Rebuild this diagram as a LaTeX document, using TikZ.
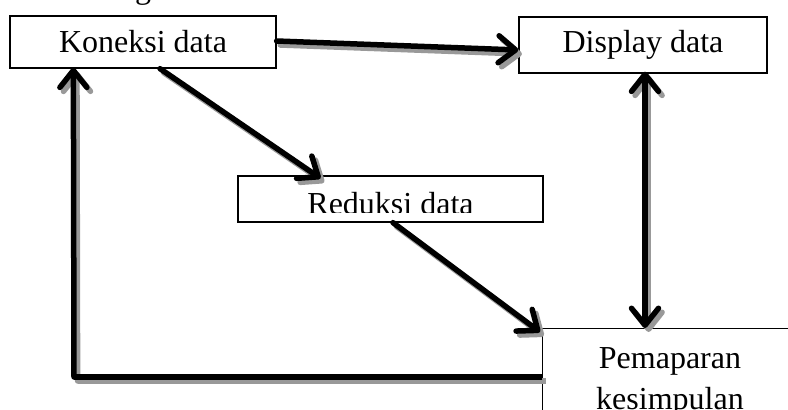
\documentclass[tikz,border=0pt]{standalone}
\usepackage{fontspec}
\setmainfont{Liberation Serif}
\usetikzlibrary{arrows.meta}
\tikzset{
  box/.style={draw=black, line width=1.3pt, fill=white, inner sep=0pt, font=\fontsize{32}{41}\selectfont},
  tipb/.tip={Straight Barb[length=17pt,width=27pt,line cap=round,line join=round]},
  conn/.style={line width=5.5pt, line cap=round, line join=round, -tipb},
  dconn/.style={conn, tipb-tipb},
  plain/.style={line width=5.5pt, line cap=butt, line join=miter},
  shade/.style={draw=black!40, transform canvas={shift={(1.8pt,-2pt)}}},
  lbl/.style={font=\fontsize{32}{41}\selectfont, inner sep=0pt}
}
\begin{document}
\begin{tikzpicture}[x=1pt,y=-1pt]
\useasboundingbox (0,0) rectangle (788,410);
\clip (0,0) rectangle (788,410);
\fill[white] (0,0) rectangle (788,410);
% clipped fragment at the top
\node[lbl, anchor=base] (frag) at (143,-2) {g};
% boxes
\node[box, minimum width=266pt, minimum height=52pt] (kon) at (143,42) {Koneksi data};
\node[box, minimum width=248pt, minimum height=56pt] (disp) at (643,45) {Display data};
\node[box, minimum width=305pt, minimum height=46pt] (red) at (390.5,199) {};
\begin{scope}
\clip (238,176) rectangle (543,212);
\node[lbl, anchor=base] (redt) at (390.5,214) {Reduksi data};
\end{scope}
\node[box, anchor=north west, minimum width=300pt, minimum height=130pt] (pem) at (542,328) {};
\node[lbl, anchor=base] (pemt) at (670,368) {Pemaparan};
\node[lbl, anchor=base] (pemt2) at (670,409) {kesimpulan};
% connectors: shadows first
\coordinate (turn) at (74,377);
\begin{scope}[every path/.append style={shade}]
\draw[conn, shade] ([yshift=1pt]kon.east) -- ([yshift=-5pt]disp.west);
\draw[conn, shade] ([xshift=17pt]kon.south) -- ([xshift=-70pt,yshift=-3pt]red.north);
\draw[conn, shade] ([xshift=2.5pt]red.south) -- ([xshift=-2pt,yshift=-4pt]pem.north west);
\draw[dconn, shade] ([xshift=2pt,yshift=2pt]disp.south) -- ([xshift=2pt]disp.south |- pem.north);
\draw[plain, shade] (pem.west |- turn) -- (turn);
\draw[conn, shade] (turn) -- ([xshift=64pt,yshift=1pt]kon.south west);
\end{scope}
% connectors
\draw[conn] ([yshift=1pt]kon.east) -- ([yshift=-5pt]disp.west);
\draw[conn] ([xshift=17pt]kon.south) -- ([xshift=-70pt,yshift=-3pt]red.north);
\draw[conn] ([xshift=2.5pt]red.south) -- ([xshift=-2pt,yshift=-4pt]pem.north west);
\draw[dconn] ([xshift=2pt,yshift=2pt]disp.south) -- ([xshift=2pt]disp.south |- pem.north);
\draw[plain] (pem.west |- turn) -- (turn);
\draw[conn] (turn) -- ([xshift=64pt,yshift=1pt]kon.south west);
\end{tikzpicture}
\end{document}
